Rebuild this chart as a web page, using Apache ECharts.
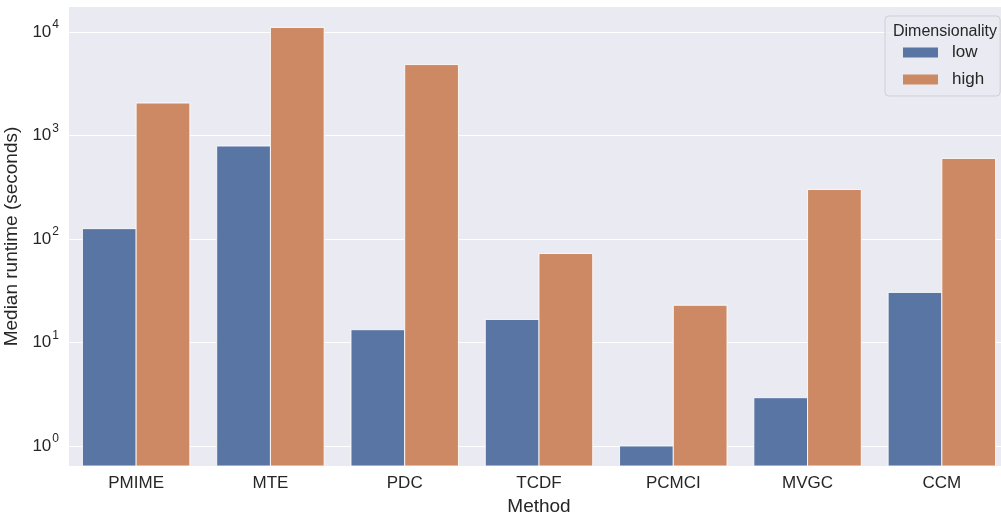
<!DOCTYPE html>
<html>
<head>
<meta charset="utf-8">
<script src="https://cdn.jsdelivr.net/npm/echarts@6/dist/echarts.min.js"></script>
<style>
  html, body { margin: 0; padding: 0; background: #ffffff; }
  #chart { width: 1001px; height: 515px; }
</style>
</head>
<body>
<div id="chart"></div>
<script>
// Median runtime per causal-discovery method, split by dimensionality
const methods = ['PMIME', 'MTE', 'PDC', 'TCDF', 'PCMCI', 'MVGC', 'CCM'];
const lowRuntime = [126, 792, 13.3, 16.7, 1.0, 2.93, 30.5];
const highRuntime = [2060, 11080, 4850, 72.4, 22.9, 301, 601];
const seriesNames = ['low', 'high'];
const seriesColors = ['#5975a4', '#cc8963'];
const legendTitle = 'Dimensionality';
const xAxisTitle = 'Method';
const yAxisTitle = 'Median runtime (seconds)';

// log-axis range (bars rise from the bottom of the plot)
const Y_MIN = 0.641;
const Y_MAX = 17460;

const TEXT = '#262626';
const FONT = '"Liberation Sans", Arial, sans-serif';

const chart = echarts.init(document.getElementById('chart'), null, { renderer: 'canvas' });

function powerLabel(v) {
  const e = Math.round(Math.log10(v));
  return '{b|10}{s|' + e + '}';
}

// hue-grouped bars: each group fills 80% of the category band
function makeBarRenderer(slot) {
  return function (params, api) {
    const idx = api.value(0);
    const val = api.value(1);
    const top = api.coord([idx, val]);
    const base = api.coord([idx, Y_MIN]);
    const band = api.size([1, 0])[0];
    const w = band * 0.4;
    const x = top[0] - band * 0.4 + slot * w;
    return {
      type: 'rect',
      shape: { x: x, y: top[1], width: w, height: base[1] - top[1] },
      style: { fill: api.visual('color'), stroke: 'rgba(255,255,255,0.85)', lineWidth: 1 }
    };
  };
}

function toPairs(values) {
  return values.map(function (v, i) { return [i, v]; });
}

chart.setOption({
  backgroundColor: '#ffffff',
  animation: false,
  textStyle: { fontFamily: FONT },
  title: {
    text: legendTitle,
    left: 888,
    top: 19,
    z: 40,
    textStyle: { fontFamily: FONT, fontSize: 16, fontWeight: 'normal', color: TEXT }
  },
  legend: {
    data: seriesNames,
    orient: 'vertical',
    left: 885,
    top: 16,
    padding: [28, 16, 8, 18],
    icon: 'rect',
    itemWidth: 35,
    itemHeight: 10,
    itemGap: 10,
    backgroundColor: 'rgba(234,234,242,0.8)',
    borderColor: '#cfcfd6',
    borderWidth: 1,
    borderRadius: 4,
    textStyle: { fontFamily: FONT, fontSize: 17, color: TEXT, padding: [0, 0, 0, 9] },
    z: 20
  },
  grid: {
    left: 69,
    top: 7,
    width: 940,
    bottom: 49,
    containLabel: false,
    outerBoundsMode: 'none',
    show: true,
    backgroundColor: '#EAEAF2',
    borderWidth: 0
  },
  xAxis: {
    type: 'category',
    data: methods,
    name: xAxisTitle,
    nameLocation: 'middle',
    nameGap: 22,
    nameTextStyle: { fontFamily: FONT, fontSize: 19, color: TEXT, verticalAlign: 'top' },
    axisLine: { show: false },
    axisTick: { show: false },
    axisLabel: { fontFamily: FONT, fontSize: 17, color: TEXT, margin: 9 },
    splitLine: { show: false }
  },
  yAxis: {
    type: 'log',
    logBase: 10,
    min: Y_MIN,
    max: Y_MAX,
    name: yAxisTitle,
    nameLocation: 'middle',
    nameGap: 36,
    nameTextStyle: { fontFamily: FONT, fontSize: 19, color: TEXT },
    axisLine: { show: false },
    axisTick: { show: false },
    axisLabel: {
      showMinLabel: false,
      showMaxLabel: false,
      margin: 10,
      formatter: powerLabel,
      rich: {
        b: { fontFamily: FONT, fontSize: 17, color: TEXT },
        s: { fontFamily: FONT, fontSize: 12, color: TEXT, padding: [0, 0, 14, 1] }
      }
    },
    splitLine: {
      show: true,
      showMinLine: false,
      showMaxLine: false,
      lineStyle: { color: '#ffffff', width: 1.2 }
    }
  },
  series: [
    {
      name: seriesNames[0],
      type: 'custom',
      data: toPairs(lowRuntime),
      encode: { x: 0, y: 1 },
      itemStyle: { color: seriesColors[0] },
      renderItem: makeBarRenderer(0)
    },
    {
      name: seriesNames[1],
      type: 'custom',
      data: toPairs(highRuntime),
      encode: { x: 0, y: 1 },
      itemStyle: { color: seriesColors[1] },
      renderItem: makeBarRenderer(1)
    }
  ]
});
</script>
</body>
</html>
